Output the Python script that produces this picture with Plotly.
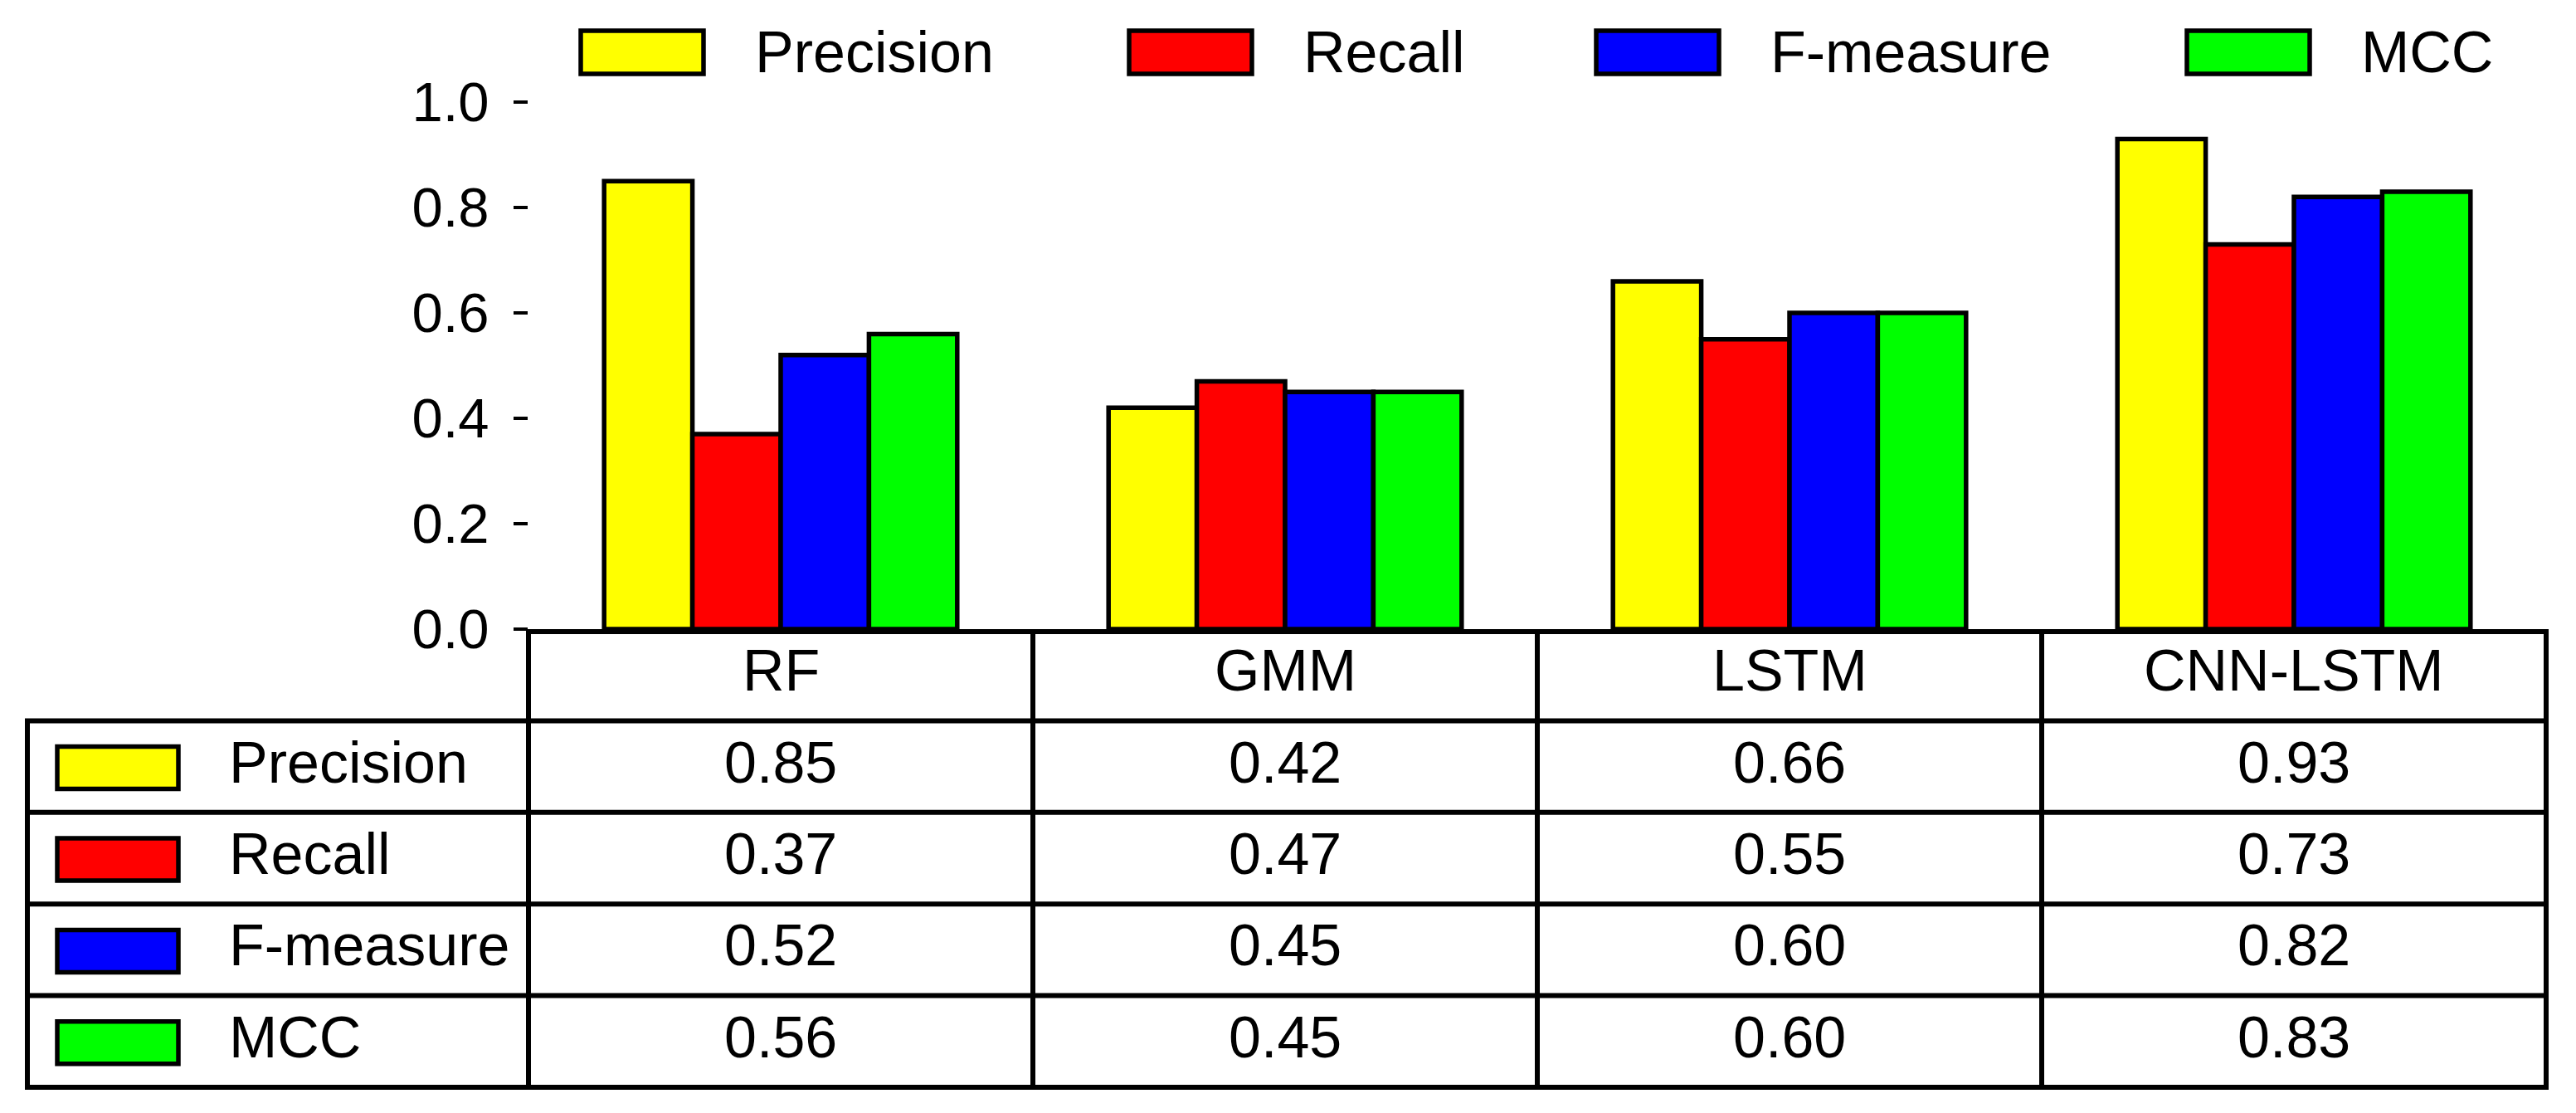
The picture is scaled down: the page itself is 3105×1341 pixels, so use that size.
import plotly.graph_objects as go

# ---------------- data ----------------
models = ["RF", "GMM", "LSTM", "CNN-LSTM"]
metrics = ["Precision", "Recall", "F-measure", "MCC"]
precision = [0.85, 0.42, 0.66, 0.93]
recall = [0.37, 0.47, 0.55, 0.73]
f_measure = [0.52, 0.45, 0.60, 0.82]
mcc = [0.56, 0.45, 0.60, 0.83]
y_ticks = [0.0, 0.2, 0.4, 0.6, 0.8, 1.0]

series = [precision, recall, f_measure, mcc]
colors = ["#FFFF00", "#FF0000", "#0000FF", "#00FF00"]

# ---------------- layout constants (screen pixels) ----------------
W, H = 3105, 1341
OFF = 8                   # default page body margin in the html
L, R = 637, 3069          # plot area left / right on screen
Y0, Y1 = 758, 123         # screen pixel of y=0 and y=1
PW = R - L
PH = Y0 - Y1
FONT = "Liberation Sans, Arial, sans-serif"
ROW_H = 110.4
TABLE_LEFT = 33
LW = 6          # table / axis lines
BAR_LW = 5.5    # bar and swatch outlines


def px(X):
    return (X - L) / PW


def py(Y):
    return (Y0 - Y) / PH


fig = go.Figure()
for name, vals, col in zip(metrics, series, colors):
    fig.add_trace(go.Bar(
        x=models, y=vals, name=name,
        marker=dict(color=col, line=dict(color="black", width=BAR_LW)),
        showlegend=False,
    ))

shapes = []
annotations = []

# ---------------- top legend ----------------
legend_box_x = [700, 1361, 1924, 2636]
for name, col, bx in zip(metrics, colors, legend_box_x):
    shapes.append(dict(type="rect", xref="paper", yref="paper",
                       x0=px(bx), x1=px(bx + 148), y0=py(89), y1=py(37),
                       fillcolor=col, line=dict(color="black", width=BAR_LW)))
    annotations.append(dict(xref="paper", yref="paper", x=px(bx + 208), y=py(63),
                            text=name, showarrow=False, xanchor="left", yanchor="middle",
                            font=dict(family=FONT, size=70, color="black")))

# ---------------- table ----------------
n_rows = len(metrics) + 1
row_edges = [Y0 + ROW_H * i for i in range(n_rows + 1)]
n_cat = len(models)
col_edges = [(i / n_cat) for i in range(n_cat + 1)]

# horizontal lines (below header)
for Yr in row_edges[1:]:
    shapes.append(dict(type="line", xref="paper", yref="paper",
                       x0=px(TABLE_LEFT - 3), x1=1 + 3 / PW, y0=py(Yr), y1=py(Yr),
                       line=dict(color="black", width=LW)))
# vertical lines
for xe in col_edges:
    shapes.append(dict(type="line", xref="paper", yref="paper",
                       x0=xe, x1=xe, y0=py(Y0), y1=py(row_edges[-1] + 3),
                       line=dict(color="black", width=LW)))
shapes.append(dict(type="line", xref="paper", yref="paper",
                   x0=px(TABLE_LEFT), x1=px(TABLE_LEFT),
                   y0=py(row_edges[1]), y1=py(row_edges[-1] + 3),
                   line=dict(color="black", width=LW)))

# header
for m in models:
    annotations.append(dict(xref="x", yref="paper", x=m,
                            y=py((row_edges[0] + row_edges[1]) / 2 - 5),
                            text=m, showarrow=False, xanchor="center", yanchor="middle",
                            font=dict(family=FONT, size=70, color="black")))

# rows
for r, (name, vals, col) in enumerate(zip(metrics, series, colors)):
    yc = (row_edges[r + 1] + row_edges[r + 2]) / 2
    shapes.append(dict(type="rect", xref="paper", yref="paper",
                       x0=px(69), x1=px(215), y0=py(yc + 27), y1=py(yc - 24),
                       fillcolor=col, line=dict(color="black", width=BAR_LW)))
    annotations.append(dict(xref="paper", yref="paper", x=px(274), y=py(yc - 5),
                            text=name, showarrow=False, xanchor="left", yanchor="middle",
                            font=dict(family=FONT, size=70, color="black")))
    for m, v in zip(models, vals):
        annotations.append(dict(xref="x", yref="paper", x=m, y=py(yc - 5),
                                text=f"{v:.2f}", showarrow=False,
                                xanchor="center", yanchor="middle",
                                font=dict(family=FONT, size=70, color="black")))

fig.update_layout(
    width=W, height=H,
    margin=dict(l=L - OFF, r=W - R + OFF, t=Y1 - OFF, b=H - Y0 + OFF, pad=0),
    paper_bgcolor="white", plot_bgcolor="white",
    barmode="group", bargap=0.30, bargroupgap=0,
    shapes=shapes, annotations=annotations,
    showlegend=False,
)
fig.update_xaxes(type="category", range=[-0.5, n_cat - 0.5],
                 showline=True, linecolor="black", linewidth=LW,
                 showticklabels=False, ticks="", showgrid=False, zeroline=False)
fig.update_yaxes(range=[0, 1.0], tickvals=y_ticks, tickformat=".1f",
                 ticks="outside", ticklen=17, tickwidth=4, tickcolor="black",
                 showline=False, showgrid=False, zeroline=False,
                 ticklabelstandoff=16,
                 tickfont=dict(family=FONT, size=67, color="black"))

fig.write_html("out.html")
